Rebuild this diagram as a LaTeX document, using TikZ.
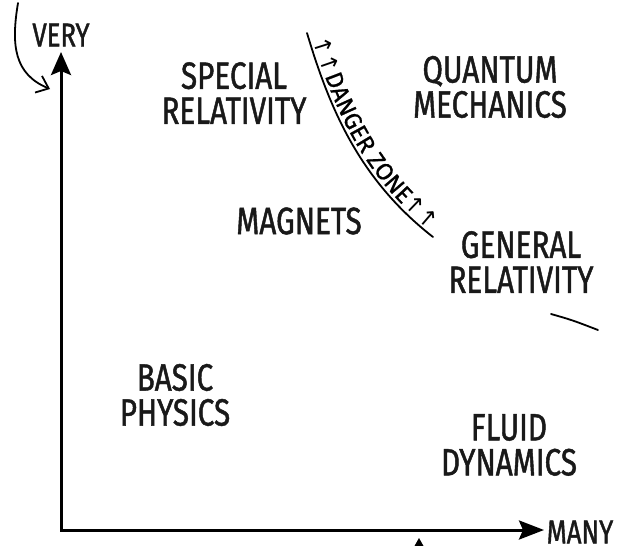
\documentclass[tikz,border=0pt]{standalone}
\usepackage{fontspec}
\newfontfamily\xk[FakeStretch=0.78,FakeBold=1.2]{Fira Sans}
\newfontfamily\fs[FakeBold=0.8]{Fira Sans}
\newfontfamily\dv{DejaVu Sans}
\usetikzlibrary{decorations.text,arrows.meta}
\begin{document}
\begin{tikzpicture}[x=1pt,y=-1pt,
  lbl/.style={font=\xk\fontsize{38}{35}\selectfont, align=center, inner sep=0pt, text=black!90},
  axlbl/.style={font=\xk\fontsize{33}{35}\selectfont, inner sep=0pt, text=black!90},
  axis/.style={line width=3pt, line join=miter},
  curve/.style={line width=1.8pt, line cap=round}]
\useasboundingbox (0,0) rectangle (622,546);
\fill[white] (0,0) rectangle (622,546);

% axes
\coordinate (ytop) at (61,52);
\coordinate (orig) at (61,530);
\coordinate (xend) at (544,530);
\draw[axis, {Stealth[length=23pt,width=20pt,inset=4pt]}-{Stealth[length=25pt,width=19pt,inset=4pt]}]
  (ytop) -- (orig) -- (xend);

\node[axlbl] (very) at (61,35) {VERY};
\node[axlbl] (many) at (580,532) {MANY};

% curved arrow pointing to the y axis
\coordinate (ca) at (18,3);
\coordinate (cb) at (50,89);
\draw[curve, -{Straight Barb[length=11pt,width=18pt]}] (ca) .. controls (11,45) and (14,74) .. (cb);

% labels
\node[lbl] (sr) at (234,93) {SPECIAL\\RELATIVITY};
\node[lbl] (qm) at (490,87) {QUANTUM\\MECHANICS};
\node[lbl] (mag) at (299,221) {MAGNETS};
\node[lbl] (gr) at (521,262) {GENERAL\\RELATIVITY};
\node[lbl] (bp) at (175,395) {BASIC\\PHYSICS};
\node[lbl] (fd) at (509,445) {FLUID\\DYNAMICS};

% danger zone
\coordinate (dz1) at (307,33);
\coordinate (dz2) at (433,237);
\draw[curve] (dz1) .. controls (330,110) and (360,180) .. (dz2);
\path[decorate, decoration={text along path, raise=3.5pt,
   text align={left indent=8pt, right indent=14pt, fit to path},
   text={|\dv\fontsize{23}{25}\selectfont|↑↑|\fs\fontsize{24}{26}\selectfont|DANGER ZONE|\dv\fontsize{23}{25}\selectfont|↑↑}}]
  (dz1) .. controls (330,110) and (360,180) .. (dz2);

% continuation stroke
\coordinate (s1) at (551,314);
\coordinate (s2) at (598,330);
\draw[curve] (s1) .. controls (572,320) .. (s2);

% cut-off arrow tip at the bottom
\coordinate (tip) at (419,538);
\fill (tip) -- (423.5,546) -- (414.5,546) -- cycle;
\end{tikzpicture}
\end{document}
